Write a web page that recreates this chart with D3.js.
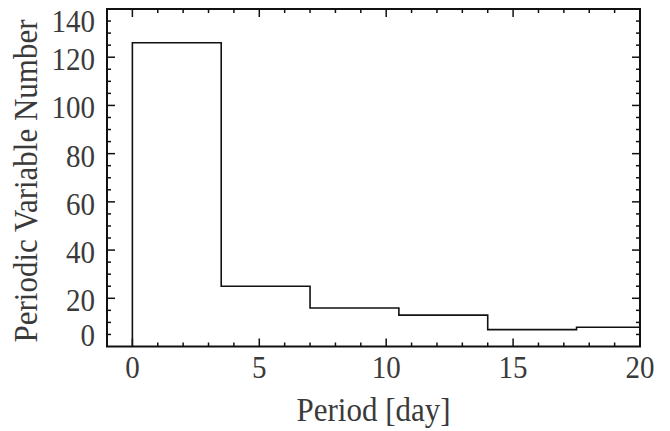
<!DOCTYPE html>
<html><head><meta charset="utf-8">
<script src="https://cdn.jsdelivr.net/npm/d3@7"></script>
<style>body{margin:0;background:#fff}svg{display:block}svg text{font-family:"Liberation Serif"}</style>
</head><body><svg id="c" width="670" height="431"></svg>
<script>
const binEdges = [0, 3.5, 7, 10.5, 14, 17.5, 20];
const counts = [126, 25, 16, 13, 7, 8];
const xTicks = [0, 5, 10, 15, 20];
const yTicks = [0, 20, 40, 60, 80, 100, 120, 140];
const xLabel = "Period [day]";
const yLabel = "Periodic Variable Number";

const svg = d3.select("#c");
const L = 107, R = 640, T = 9, B = 346.5;
const x = d3.scaleLinear().domain([-1, 20]).range([L, R]);
const y = d3.scaleLinear().domain([0, 140]).range([B, T]);
const font = '"Liberation Serif"';
const txt = "#3a3a3a";
const SY = 1.1;

// frame
svg.append("rect").attr("x", L).attr("y", T).attr("width", R - L).attr("height", B - T)
  .attr("fill", "none").attr("stroke", "#111").attr("stroke-width", 2);

// ticks
const xMinor = d3.range(-1, 21, 1);
const yMinor = d3.range(0, 141, 5);
const tk = svg.append("g").attr("stroke", "#111").attr("stroke-width", 1.5);
xMinor.forEach(v => {
  const major = v % 5 === 0;
  const len = major ? 8 : 4;
  if (v <= -1 || v >= 20) return;
  tk.append("line").attr("x1", x(v)).attr("x2", x(v)).attr("y1", B).attr("y2", B - len);
  tk.append("line").attr("x1", x(v)).attr("x2", x(v)).attr("y1", T).attr("y2", T + len);
});
yMinor.forEach(v => {
  const major = v % 20 === 0;
  const len = major ? 8 : 4;
  if (v <= 0 || v >= 140) return;
  tk.append("line").attr("y1", y(v)).attr("y2", y(v)).attr("x1", L).attr("x2", L + len);
  tk.append("line").attr("y1", y(v)).attr("y2", y(v)).attr("x1", R).attr("x2", R - len);
});

// tick labels
svg.append("g").selectAll("text").data(xTicks).join("text")
  .attr("transform", d => `translate(${x(d)},378) scale(1,${SY})`).attr("text-anchor", "middle")
  .style("font-family", font).style("font-size", "29px").attr("fill", txt).text(d => d);
svg.append("g").selectAll("text").data(yTicks).join("text")
  .attr("transform", d => `translate(95,${y(d) + (d === 140 ? 23 : d === 0 ? -1 : 13)}) scale(1,${SY})`)
  .attr("text-anchor", "end")
  .style("font-family", font).style("font-size", "29px").attr("fill", txt).text(d => d);

// axis titles
svg.append("text").attr("transform", `translate(${(L + R) / 2},421) scale(1,${SY})`).attr("text-anchor", "middle")
  .style("font-family", font).style("font-size", "31px").attr("fill", txt).text(xLabel);
svg.append("text").attr("transform", `translate(37,181) rotate(-90) scale(1,${SY})`).attr("text-anchor", "middle")
  .style("font-family", font).style("font-size", "31px").attr("fill", txt).text(yLabel);

// histogram step line
const pts = [[binEdges[0], 0]];
counts.forEach((c, i) => { pts.push([binEdges[i], c]); pts.push([binEdges[i + 1], c]); });
const line = d3.line().x(d => x(d[0])).y(d => y(d[1]));
svg.append("path").attr("d", line(pts)).attr("fill", "none")
  .attr("stroke", "#111").attr("stroke-width", 1.6);
</script></body></html>
